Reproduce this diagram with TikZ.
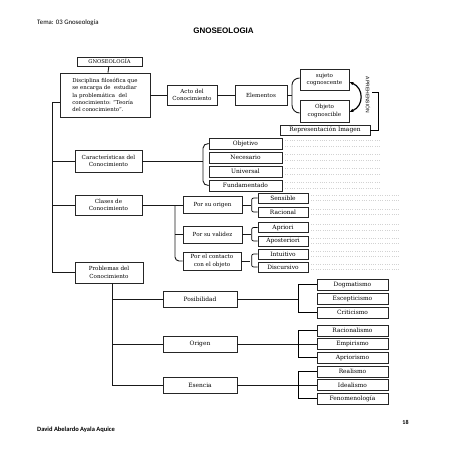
\documentclass[tikz,border=0pt]{standalone}
\usepackage{fontspec}
\setmainfont{DejaVu Serif}
\newfontfamily\hdfont{Carlito}
\newfontfamily\arialfont{Liberation Sans}
\usetikzlibrary{arrows.meta}
\begin{document}
\begin{tikzpicture}[x=1pt,y=-1pt,
  bx/.style={draw=black!85,line width=0.7pt,inner sep=0.5pt,align=center,font=\fontsize{5.9}{6.6}\selectfont},
  bxtwo/.style={bx,font=\fontsize{5.6}{7.4}\selectfont},
  conn/.style={line width=0.9pt,black!90},
  fill line/.style={gray!35,line width=0.3pt,dotted}]
\useasboundingbox (0,0) rectangle (453,453);
\fill[white] (0,0) rectangle (453,453);
% header / footer
\node[anchor=west,inner sep=0,font=\hdfont\fontsize{6.8}{8}\selectfont] (tema) at (37,22.5) {Tema: 03 Gnoseología};
\node[inner sep=0,font=\arialfont\bfseries\fontsize{8}{9}\selectfont] (title) at (223.5,30.5) {GNOSEOLOGIA};
\node[anchor=west,inner sep=0,font=\hdfont\bfseries\fontsize{6.5}{8}\selectfont] (author) at (37,430) {David Abelardo Ayala Aquice};
\node[inner sep=0,font=\hdfont\bfseries\fontsize{6}{7}\selectfont] (page) at (405.5,422) {18};
% top part
\node[bx,minimum width=65pt,minimum height=9pt,font=\fontsize{5.2}{6}\selectfont] (gnos) at (109.5,61.5) {GNOSEOLOGÍA};
\node[bx,minimum width=90pt,minimum height=44pt,align=left,font=\fontsize{5.4}{7.3}\selectfont] (def) at (105,95)
 {Disciplina filosófica que\\ se encarga de\ \ estudiar\\ la problemática\ \ del\\ conocimiento: ``Teoría\\ del conocimiento''.};
\node[bxtwo,minimum width=50pt,minimum height=20pt] (acto) at (192,95) {Acto del\\Conocimiento};
\node[bxtwo,minimum width=52pt,minimum height=20pt] (elem) at (261,95) {Elementos};
\node[bxtwo,minimum width=49pt,minimum height=21pt] (suj) at (324.5,79.5) {sujeto\\cognoscente};
\node[bxtwo,minimum width=49pt,minimum height=22pt] (obj) at (324.5,111) {Objeto\\cognoscible};
\node[bx,minimum width=90pt,minimum height=10pt] (rep) at (325,130) {Representación Imagen};
\draw[conn] (gnos) -- (def);
\draw[conn] (def.east) -- (acto.west);
\draw[conn] (acto.east) -- (elem.west);
\coordinate (eb) at (292,95);
\draw[conn] (elem.east) -- (eb);
\draw[conn] (suj.west|-0,78) to[out=180,in=90] (292,85) -- (292,105) to[out=-90,in=180] (obj.west|-0,113);
\draw[line width=1.2pt,{Latex[length=4pt,width=3.5pt]}-{Latex[length=4pt,width=3.5pt]}] (suj.east|-0,82) .. controls (364,88) and (364,106) .. (obj.east|-0,112);
\node[rotate=-90,inner sep=0,font=\arialfont\fontsize{5}{6}\selectfont] (apre) at (368,95) {APREHENSIÓN};
\draw[line width=0.7pt] (372,92) -- (378,92) -- (378,130) -- (rep.east);
% trunk
\coordinate (t0) at (52,102);
\node[bxtwo,minimum width=67pt,minimum height=22pt] (car) at (108.5,161) {Características del\\Conocimiento};
\node[bxtwo,minimum width=67pt,minimum height=20pt] (cla) at (108.5,205) {Clases de\\Conocimiento};
\node[bxtwo,minimum width=68pt,minimum height=21pt] (pro) at (109,272.5) {Problemas del\\Conocimiento};
\draw[conn] (def.west|-t0) -- (t0) -- (t0|-pro.west) -- (pro.west);
\draw[conn] (t0|-car.west) -- (car.west);
\draw[conn] (t0|-cla.west) -- (cla.west);
% caracteristicas
\foreach \n/\t/\y in {obje/Objetivo/143.5,nec/Necesario/157.5,uni/Universal/171.5,fun/Fundamentado/185.5}{
  \node[bx,minimum width=73pt,minimum height=11pt] (\n) at (245.5,\y) {\t};
  \draw[fill line] (285,\y-3.5) -- (380,\y-3.5);
  \draw[fill line] (285,\y+3) -- (380,\y+3);
}
\draw[conn] (car.east) -- (203,161);
\draw[conn] (obje.west) to[out=180,in=90] (203,148) -- (203,181) to[out=-90,in=180] (fun.west);
% clases
\node[bxtwo,minimum width=59pt,minimum height=17pt] (ori) at (212.5,205) {Por su origen};
\node[bxtwo,minimum width=59pt,minimum height=17pt] (val) at (212.5,234.5) {Por su validez};
\node[bxtwo,minimum width=58pt,minimum height=18pt] (con) at (212,261) {Por el contacto\\con el objeto};
\draw[conn] (cla.east) -- (ori.west);
\draw[conn,rounded corners=4pt] (175,205) -- (175,261) -- (con.west);
\draw[conn] (175,234.5) -- (val.west);
\foreach \n/\t/\y in {sen/Sensible/198,rac/Racional/212,apri/Apriori/227.5,apos/Aposteriori/241,int/Intuitivo/254,dis/Discursivo/267}{
  \node[bx,minimum width=50pt,minimum height=10pt] (\n) at (283,\y) {\t};
  \draw[fill line] (311,\y-3) -- (400,\y-3);
  \draw[fill line] (311,\y+2.5) -- (400,\y+2.5);
}
\foreach \a/\b/\c in {ori/sen/rac,val/apri/apos,con/int/dis}{
  \draw[conn] (\a.east) -- ++(9,0);
  \draw[line width=0.7pt,rounded corners=2pt] (\b.west) -- ++(-6,0) |- (\c.west);
}
% problemas
\node[bx,minimum width=74pt,minimum height=16pt] (pos) at (200,299) {Posibilidad};
\node[bx,minimum width=74pt,minimum height=16pt] (org) at (200,344) {Origen};
\node[bx,minimum width=74pt,minimum height=16pt] (ese) at (200,385) {Esencia};
\coordinate (pv) at (112,283);
\draw[conn] (pro.south-|pv) -- (pv|-ese.west) -- (ese.west);
\draw[conn] (pv|-pos.west) -- (pos.west);
\draw[conn] (pv|-org.west) -- (org.west);
\foreach \n/\t/\y in {dog/Dogmatismo/284.5,esc/Escepticismo/298.5,cri/Criticismo/312.5,racm/Racionalismo/330.5,emp/Empirismo/344,apr/Apriorismo/357.5,rea/Realismo/371.5,ide/Idealismo/385,fen/Fenomenología/398.5}{
  \node[bx,minimum width=71pt,minimum height=11pt] (\n) at (352.5,\y) {\t};
}
\draw[conn] (pos.east) -- (298,299);
\draw[conn] (org.east) -- (emp.west);
\draw[conn] (ese.east) -- (ide.west);
\draw[line width=0.7pt] (dog.west) -- (298,284.5) -- (298,312.5) -- (cri.west);
\draw[line width=0.7pt] (racm.west) -- (298,330.5) -- (298,357.5) -- (apr.west);
\draw[line width=0.7pt] (rea.west) -- (298,371.5) -- (298,398.5) -- (fen.west);
\end{tikzpicture}
\end{document}
